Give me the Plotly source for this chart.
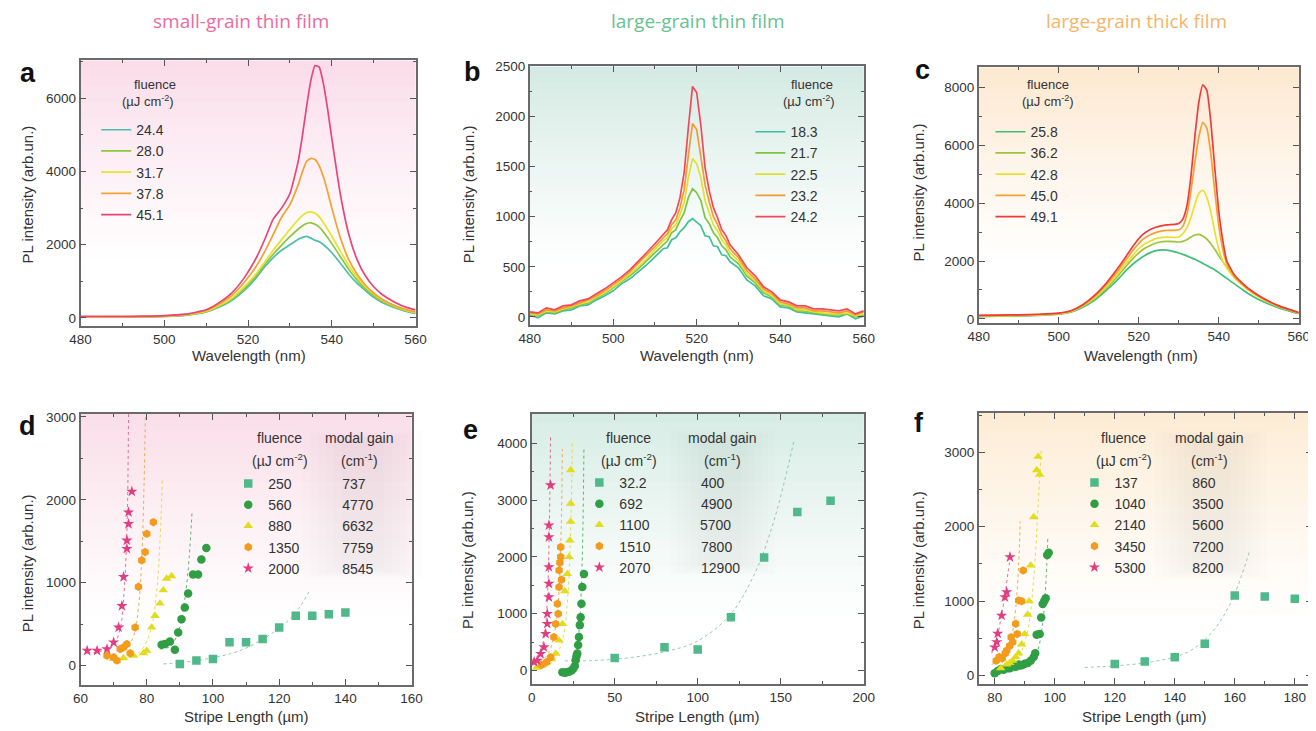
import plotly.graph_objects as go

W, H = 1316, 731

# ---------------- data ----------------
# panel a : small-grain thin film spectra
wl_a = [480, 485, 490, 495, 500, 505, 510, 513, 516, 519, 522, 524, 526, 528, 530, 532, 533, 534,
        535, 536, 537, 538, 539, 540, 542, 544, 546, 548, 550, 552, 555, 558, 560]
fl_a = ["24.4", "28.0", "31.7", "37.8", "45.1"]
a_244 = [20, 20, 20, 25, 40, 70, 160, 290, 470, 740, 1100, 1400, 1650, 1850, 2000, 2150, 2200, 2230,
         2180, 2120, 2080, 2000, 1900, 1780, 1500, 1200, 950, 750, 560, 420, 280, 170, 120]
a_280 = [20, 20, 20, 25, 40, 75, 170, 310, 500, 790, 1160, 1460, 1740, 1990, 2220, 2430, 2520, 2580,
         2600, 2560, 2480, 2350, 2200, 2030, 1680, 1330, 1040, 800, 610, 460, 300, 190, 140]
a_317 = [20, 20, 25, 30, 45, 80, 180, 330, 530, 840, 1220, 1530, 1850, 2140, 2420, 2690, 2800, 2880,
         2900, 2860, 2760, 2600, 2420, 2230, 1830, 1440, 1120, 860, 650, 490, 320, 200, 150]
a_378 = [30, 30, 30, 35, 50, 90, 200, 370, 600, 960, 1420, 1820, 2280, 2750, 3100, 3650, 4000, 4280,
         4360, 4330, 4150, 3850, 3450, 3000, 2200, 1600, 1200, 900, 680, 510, 340, 220, 170]
a_451 = [40, 40, 40, 45, 60, 100, 220, 410, 670, 1080, 1650, 2150, 2700, 3000, 3400, 4300, 5000, 5800,
         6500, 6900, 6850, 6400, 5700, 4900, 3400, 2300, 1600, 1150, 850, 640, 430, 280, 220]

# panel b : large-grain thin film spectra
wl_b = [480, 482, 484, 486, 488, 490, 492, 494, 496, 498, 500, 502, 504, 506, 508, 510, 512,
        513, 514, 515, 516, 517, 518, 519, 520, 521, 522, 523, 524, 525, 526, 527,
        528, 530, 532, 534, 536, 538, 540, 542, 544, 546, 548, 550, 552, 554, 556, 558, 560]
fl_b = ["18.3", "21.7", "22.5", "23.2", "24.2"]
b_183 = [20, -10, 40, 30, 60, 70, 110, 120, 170, 210, 260, 330, 380, 450, 520, 600, 680,
         690, 770, 790, 850, 890, 950, 980, 940, 910, 810, 800, 710, 700, 620, 610,
         550, 490, 370, 310, 210, 180, 100, 90, 50, 40, 30, 20, 10, 0, 30, -20, 10]
b_217 = [30, 10, 50, 40, 70, 90, 120, 140, 190, 230, 290, 350, 410, 480, 560, 640, 730,
         760, 840, 870, 960, 1040, 1190, 1280, 1240, 1160, 990, 930, 840, 790, 710, 670,
         600, 530, 410, 340, 240, 200, 120, 110, 60, 60, 40, 30, 20, 20, 30, 0, 20]
b_225 = [30, 20, 60, 50, 80, 100, 130, 150, 200, 240, 300, 360, 430, 500, 580, 670, 760,
         790, 880, 920, 1020, 1140, 1390, 1580, 1530, 1390, 1160, 1040, 920, 860, 770, 720,
         640, 560, 430, 360, 260, 210, 130, 120, 70, 70, 50, 40, 30, 30, 40, 10, 30]
b_232 = [40, 30, 70, 60, 90, 110, 140, 170, 210, 260, 320, 380, 450, 530, 610, 700, 790,
         830, 920, 970, 1090, 1270, 1610, 1930, 1870, 1610, 1320, 1150, 1000, 920, 820, 760,
         680, 590, 460, 380, 280, 230, 150, 130, 90, 90, 60, 60, 50, 40, 60, 20, 50]
b_242 = [50, 40, 90, 70, 110, 120, 160, 180, 230, 280, 340, 400, 470, 550, 640, 730, 830,
         870, 970, 1040, 1190, 1440, 1890, 2300, 2240, 1910, 1490, 1260, 1090, 990, 870, 810,
         720, 620, 490, 410, 300, 250, 170, 150, 110, 110, 80, 80, 70, 60, 80, 30, 60]

# panel c : large-grain thick film spectra
wl_c = [480, 485, 490, 495, 500, 503, 506, 509, 512, 515, 517, 519, 521, 523, 525, 527, 529,
        530, 531, 532, 533, 534, 535, 536, 537, 538, 539, 540, 541, 542, 544, 546, 548, 551, 555, 560]
fl_c = ["25.8", "36.2", "42.8", "45.0", "49.1"]
c_258 = [80, 90, 100, 120, 160, 230, 400, 650, 1000, 1400, 1700, 1950, 2150, 2300, 2380, 2380, 2320,
         2280, 2230, 2180, 2120, 2060, 1990, 1920, 1850, 1770, 1690, 1600, 1500, 1400, 1200, 1000, 820, 600, 380, 180]
c_362 = [90, 100, 110, 130, 170, 250, 430, 700, 1080, 1520, 1850, 2150, 2400, 2550, 2650, 2680, 2670,
         2660, 2680, 2740, 2830, 2900, 2920, 2870, 2760, 2600, 2400, 2180, 1980, 1780, 1450, 1180, 950, 690, 430, 200]
c_428 = [100, 110, 120, 140, 180, 260, 450, 740, 1130, 1600, 1950, 2280, 2550, 2700, 2800, 2830, 2820,
         2830, 2950, 3150, 3500, 3950, 4350, 4450, 4200, 3700, 3000, 2400, 2000, 1750, 1400, 1150, 930, 680, 420, 200]
c_450 = [110, 120, 130, 150, 190, 270, 470, 780, 1200, 1700, 2080, 2450, 2750, 2920, 3020, 3060, 3060,
         3080, 3200, 3600, 4400, 5400, 6300, 6800, 6600, 5700, 4400, 3200, 2400, 1900, 1450, 1180, 960, 700, 440, 210]
c_491 = [120, 130, 140, 160, 200, 280, 490, 820, 1260, 1800, 2200, 2600, 2920, 3100, 3200, 3250, 3270,
         3300, 3450, 3900, 4900, 6300, 7500, 8100, 7900, 6800, 5200, 3700, 2700, 2000, 1500, 1220, 990, 720, 450, 220]

# panel d : small-grain stripe length
fl_d = ["250", "560", "880", "1350", "2000"]
gain_d = ["737", "4770", "6632", "7759", "8545"]
d_x1 = [90, 95, 100, 105, 110, 115, 120, 125, 130, 135, 140]
d_y1 = [20, 60, 80, 280, 280, 320, 460, 600, 600, 620, 640]
d_x2 = [84.5, 85.5, 87, 88.5, 89.5, 90.5, 91.5, 92.5, 94, 95.5, 96.5, 98]
d_y2 = [250, 260, 290, 190, 400, 560, 700, 870, 1100, 1100, 1280, 1420]
d_x3 = [70, 73, 76, 79, 80, 81.5, 82.5, 84, 85, 86, 87.5]
d_y3 = [80, 90, 120, 150, 180, 460, 600, 750, 910, 1050, 1080]
d_x4 = [68, 70, 71, 72, 73, 74, 75, 76.5, 77.5, 78.5, 79.5, 80, 82]
d_y4 = [120, 100, 60, 200, 220, 260, 150, 460, 950, 1270, 1370, 1590, 1730]
d_x5 = [62, 65, 68, 70, 71.5, 72.5, 73, 74, 74, 74.5, 74.5, 75.5]
d_y5 = [180, 180, 200, 280, 460, 720, 1070, 1410, 1510, 1710, 1850, 2100]
d_fx1 = [85, 90, 95, 100, 105, 110, 115, 120, 125, 129]
d_fy1 = [20, 35, 60, 95, 140, 210, 320, 450, 640, 890]
d_fx2 = [84, 87, 89.5, 91.5, 92.8, 93.7]
d_fy2 = [200, 230, 400, 800, 1300, 1870]
d_fx3 = [74, 78, 81, 83, 84, 84.7]
d_fy3 = [100, 170, 400, 900, 1500, 2240]
d_fx4 = [68, 73, 76, 77.5, 78.5, 79.2, 79.6]
d_fy4 = [120, 180, 350, 700, 1300, 2200, 3035]
d_fx5 = [62, 66, 70, 72, 73, 74, 74.5]
d_fy5 = [150, 170, 250, 450, 800, 1600, 3035]

# panel e : large-grain thin film stripe length
fl_e = ["32.2", "692", "1100", "1510", "2070"]
gain_e = ["400", "4900", "5700", "7800", "12900"]
e_x1 = [50, 80, 100, 120, 140, 160, 180]
e_y1 = [220, 410, 370, 940, 1990, 2790, 2990]
e_x2 = [18.5, 20, 21, 22.5, 24, 25, 26, 26.5, 27, 27.5, 28, 28.5, 29, 29.5, 30, 30.5, 31.5]
e_y2 = [-30, -40, -30, -20, 0, 30, 80, 180, 250, 300, 450, 590, 800, 940, 1175, 1470, 1700]
e_x3 = [3, 6, 9, 12, 14.5, 16.5, 18.5, 20, 21.5, 22.5, 23, 23.5, 23.5, 23.5]
e_y3 = [50, 100, 150, 200, 300, 530, 820, 1400, 1700, 2000, 2290, 2620, 2940, 3530]
e_x4 = [6, 9, 11.5, 13.4, 14.5, 15.5, 16, 16.5, 16.5, 17, 17.5, 17.5, 18]
e_y4 = [100, 150, 235, 590, 820, 1175, 1000, 1470, 1765, 1900, 2000, 2175, 1600]
e_x5 = [1.5, 3.4, 5.4, 7.4, 8.4, 9.4, 9.4, 10.4, 10.4, 10.4, 10.4, 10.4, 11.4]
e_y5 = [150, 176, 294, 411, 647, 823, 1000, 1293, 1530, 1822, 2350, 2557, 3263]
e_fx1 = [20, 40, 60, 80, 100, 120, 135, 145, 152, 158]
e_fy1 = [170, 180, 230, 330, 520, 1000, 1750, 2550, 3300, 4050]
e_fx2 = [18, 24, 27, 29, 30.5, 31.5]
e_fy2 = [-50, 50, 300, 900, 2000, 3940]
e_fx3 = [8, 14, 19, 22, 23.7, 24.5]
e_fy3 = [50, 200, 600, 1400, 2700, 4000]
e_fx4 = [5, 10, 14, 16.5, 17.8, 18.5]
e_fy4 = [150, 300, 700, 1400, 2500, 3900]
e_fx5 = [0, 5, 8, 9.5, 10.5, 11.4]
e_fy5 = [100, 300, 700, 1300, 2300, 4140]

# panel f : large-grain thick film stripe length
fl_f = ["137", "1040", "2140", "3450", "5300"]
gain_f = ["860", "3500", "5600", "7200", "8200"]
f_x1 = [120, 130, 140, 150, 160, 170, 180]
f_y1 = [157, 188, 246, 426, 1077, 1063, 1032]
f_x2 = [80, 81, 82, 83, 84, 85, 86, 87, 88, 89, 90, 91, 92, 93, 93.5, 94, 95, 95.5, 96, 96.5, 97, 97.5, 98]
f_y2 = [30, 60, 90, 80, 110, 100, 130, 120, 150, 140, 160, 170, 200, 250, 300, 550, 560, 780, 960, 1000, 1040, 1620, 1650]
f_x3 = [82, 84, 85, 86, 87, 88, 89, 90, 91, 91.5, 92, 93, 94, 94.5, 95]
f_y3 = [100, 150, 170, 200, 250, 300, 420, 560, 820, 1000, 1480, 2130, 2760, 2940, 2700]
f_x4 = [80.5, 81.5, 82.5, 83.5, 84, 85, 85.5, 86, 87, 87.5, 88, 89, 89.5]
f_y4 = [200, 250, 230, 300, 336, 400, 515, 450, 695, 560, 1010, 1000, 1413]
f_x5 = [80, 80.7, 81, 82.3, 83.4, 84, 85.1]
f_y5 = [380, 450, 565, 807, 1054, 1121, 1592]
f_fx1 = [110, 120, 130, 140, 145, 150, 155, 160, 165]
f_fy1 = [110, 130, 170, 250, 330, 480, 720, 1100, 1680]
f_fx2 = [80, 86, 91, 94, 96, 97, 97.7]
f_fy2 = [30, 60, 130, 300, 700, 1200, 1850]
f_fx3 = [84, 88, 91, 93, 94.5, 95.5]
f_fy3 = [100, 250, 600, 1300, 2300, 3030]
f_fx4 = [79, 83, 85.5, 87, 88, 88.5]
f_fy4 = [150, 250, 500, 900, 1500, 2070]
f_fx5 = [79, 80.5, 82, 83.5, 84.5, 85.3]
f_fy5 = [300, 450, 750, 1100, 1400, 1600]

# ---------------- styling ----------------
FONT = "Liberation Sans"
TXT = "#333333"
spec_cols_a = ["#4dbfa8", "#8cc63f", "#e6e22e", "#f5a030", "#e8457a"]
spec_cols_b = ["#3fbf9a", "#7cc444", "#e0e030", "#f59a30", "#f04a5a"]
spec_cols_c = ["#3fbf7a", "#9cc63a", "#e8e030", "#f5a030", "#ee3c3c"]
pt_cols = ["#4fb98a", "#2f9e44", "#e2dc1e", "#f29b1d", "#e23d80"]
fit_cols = ["rgba(120,190,150,0.8)", "rgba(60,160,80,0.8)", "rgba(220,210,40,0.8)",
            "rgba(240,150,40,0.8)", "rgba(225,70,130,0.8)"]
symbols = ["square", "circle", "triangle-up", "hexagon", "star"]

# page-placement helpers (target pixel -> layout pixel)
SC, OX, OY = 0.983, 18.5, 15.7


def PX(t):
    return min(W, max(0.0, (t - OX) / SC))


def PY(t):
    return min(H, max(0.0, (t - OY) / SC))


# panel boxes in target pixels: left, right, top, bottom
boxes = {1: (80, 415, 61, 326), 2: (529, 863, 67, 325), 3: (978, 1298, 68, 323),
         4: (80, 411, 414, 684), 5: (531, 863, 414, 683), 6: (978, 1311, 413, 683)}
xr = {1: [480, 560], 2: [480, 560], 3: [480, 560], 4: [60, 160], 5: [0, 200], 6: [74.7, 185.7]}
yr = {1: [-220, 7040], 2: [-80, 2500], 3: [-140, 8700], 4: [-230, 3035], 5: [-230, 4515], 6: [-108, 3526]}
xd = {1: (20, 10), 2: (20, 10), 3: (20, 10), 4: (20, 10), 5: (50, 25), 6: (20, 10)}
yd = {1: (2000, 1000), 2: (500, 250), 3: (2000, 1000), 4: (1000, 500), 5: (1000, 500), 6: (1000, 500)}

fig = go.Figure()


def sfx(i):
    return "" if i == 1 else str(i)


def add_spectra(i, wl, curves, labels, cols, shape):
    for vals, lab, col in zip(curves, labels, cols):
        fig.add_trace(go.Scatter(x=wl, y=vals, mode="lines", name=lab,
                                 line=dict(color=col, width=1.7, shape=shape, smoothing=0.5),
                                 xaxis="x" + sfx(i), yaxis="y" + sfx(i), legend="legend" + sfx(i)))


add_spectra(1, wl_a, [a_244, a_280, a_317, a_378, a_451], fl_a, spec_cols_a, "spline")
add_spectra(2, wl_b, [b_183, b_217, b_225, b_232, b_242], fl_b, spec_cols_b, "linear")
add_spectra(3, wl_c, [c_258, c_362, c_428, c_450, c_491], fl_c, spec_cols_c, "spline")


def pad_name(fl, gain, gap_px, fs=14):
    w = sum(0.556 * fs if ch.isdigit() else 0.278 * fs for ch in fl)
    n = max(1, round((gap_px - w) / (0.278 * fs)))
    return fl + "\u00a0" * n + gain


def add_gain(i, pts, fits, fls, gains, gap):
    for (fx, fy), col in zip(fits, fit_cols):
        fig.add_trace(go.Scatter(x=fx, y=fy, mode="lines", showlegend=False, hoverinfo="skip",
                                 line=dict(color=col, width=1, dash="dot", shape="spline"),
                                 xaxis="x" + sfx(i), yaxis="y" + sfx(i)))
    for (px, py), col, sym, fl, g in zip(pts, pt_cols, symbols, fls, gains):
        fig.add_trace(go.Scatter(x=px, y=py, mode="markers", name=pad_name(fl, g, gap),
                                 marker=dict(color=col, symbol=sym, size=8.5, line=dict(width=0)),
                                 xaxis="x" + sfx(i), yaxis="y" + sfx(i), legend="legend" + sfx(i)))


add_gain(4, [(d_x1, d_y1), (d_x2, d_y2), (d_x3, d_y3), (d_x4, d_y4), (d_x5, d_y5)],
         [(d_fx1, d_fy1), (d_fx2, d_fy2), (d_fx3, d_fy3), (d_fx4, d_fy4), (d_fx5, d_fy5)],
         fl_d, gain_d, 75)
add_gain(5, [(e_x1, e_y1), (e_x2, e_y2), (e_x3, e_y3), (e_x4, e_y4), (e_x5, e_y5)],
         [(e_fx1, e_fy1), (e_fx2, e_fy2), (e_fx3, e_fy3), (e_fx4, e_fy4), (e_fx5, e_fy5)],
         fl_e, gain_e, 82)
add_gain(6, [(f_x1, f_y1), (f_x2, f_y2), (f_x3, f_y3), (f_x4, f_y4), (f_x5, f_y5)],
         [(f_fx1, f_fy1), (f_fx2, f_fy2), (f_fx3, f_fy3), (f_fx4, f_fy4), (f_fx5, f_fy5)],
         fl_f, gain_f, 77)

layout = dict(width=W, height=H, margin=dict(l=0, r=0, t=0, b=0),
              paper_bgcolor="white", plot_bgcolor="white", showlegend=True,
              font=dict(family=FONT, color=TXT))

for i, (l, r, t, b) in boxes.items():
    s = sfx(i)
    common = dict(showline=True, linecolor="#6a6a6a", linewidth=1.5, mirror="allticks",
                  ticks="inside", ticklen=6, tickwidth=1.3, tickcolor="#555",
                  showgrid=False, zeroline=False,
                  tickfont=dict(family=FONT, size=13.5, color=TXT))
    layout["xaxis" + s] = dict(common, domain=[PX(l) / W, PX(r) / W], range=xr[i], anchor="y" + s,
                               dtick=xd[i][0], tick0=0,
                               minor=dict(ticks="inside", ticklen=3, dtick=xd[i][1], tick0=0,
                                          tickcolor="#555", showgrid=False))
    layout["yaxis" + s] = dict(common, domain=[1 - PY(b) / H, 1 - PY(t) / H], range=yr[i], anchor="x" + s,
                               dtick=yd[i][0], tick0=0,
                               minor=dict(ticks="inside", ticklen=3, dtick=yd[i][1], tick0=0,
                                          tickcolor="#555", showgrid=False))

leg_common = dict(bgcolor="rgba(0,0,0,0)", borderwidth=0, itemwidth=30, tracegroupgap=0,
                  font=dict(family=FONT, size=14, color=TXT), xanchor="left", yanchor="top",
                  itemclick=False)
# (text start x, first entry centre y) in target pixels
leg_pos = {1: (135, 130), 2: (789, 132), 3: (1029, 132), 4: (267, 483), 5: (618, 482), 6: (1113, 482)}
for i, (tx, ty) in leg_pos.items():
    layout["legend" + sfx(i)] = dict(leg_common, x=(PX(tx) - 40) / W, y=1 - (PY(ty) - 15.6) / H)

# gradient backgrounds
tops = {1: (250, 220, 232), 2: (212, 234, 227), 3: (253, 232, 208),
        4: (250, 222, 233), 5: (215, 236, 229), 6: (253, 236, 212)}
shapes = []
N = 32
for i, rgb in tops.items():
    s = sfx(i)
    for k in range(N):
        y0, y1 = k / N, (k + 1) / N
        tt = (y0 + y1) / 2
        f = max(0.0, (tt - 0.22) / 0.78) ** 1.15
        c = [round(255 + (ch - 255) * f) for ch in rgb]
        shapes.append(dict(type="rect", xref="x%s domain" % s, yref="y%s domain" % s,
                           x0=0, x1=1, y0=y0, y1=min(1, y1 + 0.003), layer="below",
                           fillcolor="rgb(%d,%d,%d)" % tuple(c), line=dict(width=0)))
# soft grey shading behind the modal-gain column (nested, faint)
for cx, hw0, y0, y1 in [(362, 60, 430, 578), (722, 52, 430, 574), (1210, 56, 430, 578)]:
    for k in range(6):
        hw = hw0 * (1 - k * 0.13)
        shapes.append(dict(type="rect", xref="paper", yref="paper",
                           x0=PX(cx - hw) / W, x1=PX(cx + hw) / W,
                           y0=1 - PY(y1 - 2 * k) / H, y1=1 - PY(y0 + 2 * k) / H, layer="below",
                           fillcolor="rgba(150,150,150,0.025)", line=dict(width=0)))
layout["shapes"] = shapes

ann = []


def txt(x, y, s, size=14, color=TXT, bold=False, angle=0, family=FONT, minx=0):
    ann.append(dict(x=max(minx, PX(x)) / W, y=1 - PY(y) / H, xref="paper", yref="paper",
                    text=("<b>%s</b>" % s) if bold else s,
                    showarrow=False, textangle=angle, xanchor="center", yanchor="middle",
                    font=dict(size=size, color=color, family=family)))


txt(240, 22, "small-grain thin film", 19, "#ea6b9f", family="Open Sans")
txt(697, 22, "large-grain thin film", 19, "#68c18f", family="Open Sans")
txt(1136, 22, "large-grain thick film", 19, "#f5b46a", family="Open Sans")
for lab, (x, y) in zip("abcdef", [(20, 74), (472, 73), (922, 71), (20, 426), (470, 430), (918, 423)]):
    txt(x, y, lab, 27, "#111", bold=True, minx=9)
for x, y in [(20, 195), (468, 195), (918, 193), (19, 563), (467, 560), (918, 560)]:
    txt(x, y, "PL intensity (arb.un.)", 15, angle=-90, minx=9)
for x in [248, 696, 1140]:
    txt(x, 356, "Wavelength (nm)", 15)
for x in [246, 697, 1144]:
    txt(x, 716, "Stripe Length (µm)", 15)
for x in [(154, 147), (811, 808), (1047, 1047)]:
    txt(x[0], 85, "fluence", 13)
    txt(x[1], 102, "(µJ cm<sup>-2</sup>)", 13)
for xf, xg in [(279, 359), (628, 722), (1123, 1209)]:
    txt(xf, 438, "fluence", 14)
    txt(xg, 438, "modal gain", 14)
    txt(xf, 460, "(µJ cm<sup>-2</sup>)", 14)
    txt(xg, 460, "(cm<sup>-1</sup>)", 14)
layout["annotations"] = ann

fig.update_layout(**layout)
fig.write_html("out.html")
